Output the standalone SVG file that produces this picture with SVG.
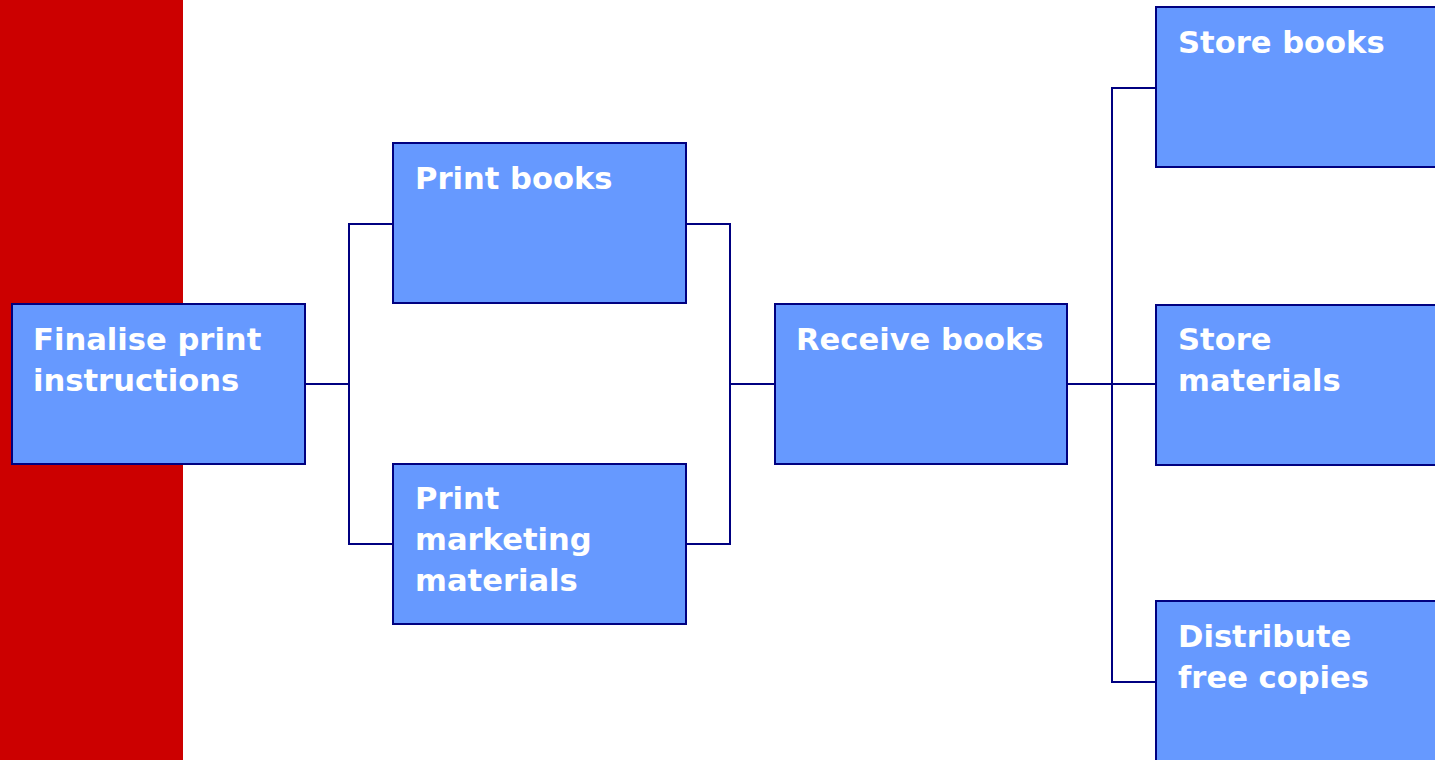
<svg xmlns="http://www.w3.org/2000/svg" width="1435" height="760" viewBox="0 0 1435 760">
<style>
.box{fill:#6699FF;stroke:#000080;stroke-width:2}
.lbl{fill:#FFFFFF;font-family:"DejaVu Sans",Verdana,sans-serif;font-weight:bold;font-size:30.6px}
.conn{fill:none;stroke:#000080;stroke-width:2;stroke-linecap:square}
</style>
<rect x="0" y="0" width="183" height="760" fill="#CC0000"/>
<g id="connectors">
<path class="conn" d="M305,384 H349 M349,224 V544 M349,224 H393 M349,544 H393"/>
<path class="conn" d="M686,224 H730 M686,544 H730 M730,224 V544 M730,384 H775"/>
<path class="conn" d="M1067,384 H1112 M1112,88 V682 M1112,88 H1156 M1112,384 H1156 M1112,682 H1156"/>
</g>
<g id="n-finalise">
<rect class="box" x="12" y="304" width="293" height="160"/>
<text class="lbl" x="33" y="350">Finalise print</text>
<text class="lbl" x="33" y="391">instructions</text>
</g>
<g id="n-printbooks">
<rect class="box" x="393" y="143" width="293" height="160"/>
<text class="lbl" x="415" y="189">Print books</text>
</g>
<g id="n-printmarketing">
<rect class="box" x="393" y="464" width="293" height="160"/>
<text class="lbl" x="415" y="509">Print</text>
<text class="lbl" x="415" y="550">marketing</text>
<text class="lbl" x="415" y="591">materials</text>
</g>
<g id="n-receive">
<rect class="box" x="775" y="304" width="292" height="160"/>
<text class="lbl" x="796" y="350">Receive books</text>
</g>
<g id="n-storebooks">
<rect class="box" x="1156" y="7" width="290" height="160"/>
<text class="lbl" x="1178" y="53">Store books</text>
</g>
<g id="n-storematerials">
<rect class="box" x="1156" y="305" width="290" height="160"/>
<text class="lbl" x="1178" y="350">Store</text>
<text class="lbl" x="1178" y="391">materials</text>
</g>
<g id="n-distribute">
<rect class="box" x="1156" y="601" width="290" height="170"/>
<text class="lbl" x="1178" y="647">Distribute</text>
<text class="lbl" x="1178" y="688">free copies</text>
</g>
</svg>
